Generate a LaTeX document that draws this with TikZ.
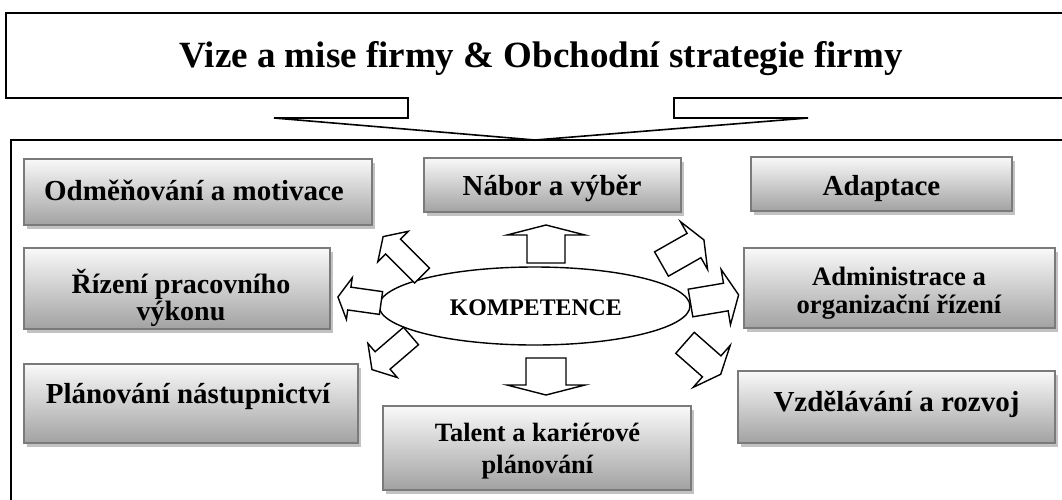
\documentclass[tikz,border=0pt]{standalone}
\usepackage{fontspec}
\setmainfont{Liberation Serif}
\usetikzlibrary{shapes.geometric,shadows}
\definecolor{boxtop}{HTML}{F9F9F9}
\definecolor{boxbot}{HTML}{A2A2A2}
\definecolor{boxborder}{HTML}{7A7A7A}
\definecolor{shadowc}{HTML}{C2C2C2}
\tikzset{
  gbox/.style={draw=boxborder, line width=2pt, top color=boxtop, bottom color=boxbot,
    inner sep=0pt, general shadow={fill=shadowc, shadow xshift=3pt, shadow yshift=-4pt}},
  btext/.style={font=\bfseries\fontsize{29}{33}\selectfont, inner sep=0pt, anchor=base, align=center},
  barr/.style={draw=black, fill=white, line width=1.4pt, line join=miter},
  frame/.style={draw=black, line width=1.6pt},
}
% base x, base y, angle, shaft length, shaft width, head length, head width
\newcommand\blockarr[7]{%
  \draw[barr, shift={(#1,#2)}, rotate=#3]
    (0,-#5/2) -- (#4,-#5/2) -- (#4,-#7/2) -- ({#4+#6},0) -- (#4,#7/2) -- (#4,#5/2) -- (0,#5/2) -- cycle;}
\begin{document}
\begin{tikzpicture}[x=1pt,y=-1pt]
\useasboundingbox (0,0) rectangle (1062,499);
\clip (0,0) rectangle (1062,499);
% top box with notched arrow
\draw[frame] (6,13) -- (1070,13) -- (1070,98) -- (674,98) -- (674,118) -- (808,118)
  -- (535,140) -- (274,118) -- (408,118) -- (408,98) -- (6,98) -- cycle;
\node[font=\bfseries\fontsize{37}{40}\selectfont, inner sep=0pt, anchor=base] (title) at (541,67)
  {Vize a mise firmy \& Obchodní strategie firmy};
% big frame
\draw[frame] (11,520) -- (11,140) -- (1070,140);
% boxes
\node[gbox, minimum width=348, minimum height=66] (odm) at (198,192) {};
\node[gbox, minimum width=306, minimum height=81] (riz) at (177,288.5) {};
\node[gbox, minimum width=334, minimum height=79] (plan) at (191,403.5) {};
\node[gbox, minimum width=257, minimum height=54] (nabor) at (552.5,185) {};
\node[gbox, minimum width=308, minimum height=84] (talent) at (537,448) {};
\node[gbox, minimum width=261, minimum height=54] (adapt) at (881.5,184) {};
\node[gbox, minimum width=311, minimum height=80] (admin) at (899.5,288) {};
\node[gbox, minimum width=317, minimum height=72] (vzdel) at (896.5,407) {};
% texts
\node[btext] (odmT) at (194,200) {Odměňování a motivace};
\node[btext, font=\bfseries\fontsize{28}{25}\selectfont] (rizT) at (181,320) {Řízení pracovního\\výkonu};
\node[btext] (planT) at (188,403) {Plánování nástupnictví};
\node[btext] (naborT) at (552,195) {Nábor a výběr};
\node[btext, font=\bfseries\fontsize{26.4}{31.5}\selectfont] (talentT) at (537.5,473) {Talent a kariérové\\plánování};
\node[btext] (adaptT) at (881.5,195) {Adaptace};
\node[btext, font=\bfseries\fontsize{26.6}{28}\selectfont] (adminT) at (899,313) {Administrace a\\organizační řízení};
\node[btext] (vzdelT) at (896.5,411.5) {Vzdělávání a rozvoj};
% ellipse
\node[draw=black, line width=1.4pt, ellipse, minimum width=311, minimum height=78, inner sep=0pt] (komp) at (534.5,306) {};
\node[font=\bfseries\fontsize{23.8}{26}\selectfont, inner sep=0pt, anchor=base] (kompT) at (535.8,315) {KOMPETENCE};
% block arrows
\blockarr{546}{263}{90}{28}{38}{10}{78}
\blockarr{546}{358}{-90}{27}{40}{10}{78}
\blockarr{422}{275.5}{135}{41}{21}{14}{43}
\blockarr{381}{303}{172}{32}{23}{11.5}{42}
\blockarr{411}{336}{220.7}{37.5}{23}{14}{45}
\blockarr{661.5}{264}{29.6}{37.4}{28}{11.4}{55}
\blockarr{690.5}{303}{9.6}{35.8}{28}{13}{56}
\blockarr{685}{342.8}{-41.4}{35.6}{28}{12}{56}
\end{tikzpicture}
\end{document}
